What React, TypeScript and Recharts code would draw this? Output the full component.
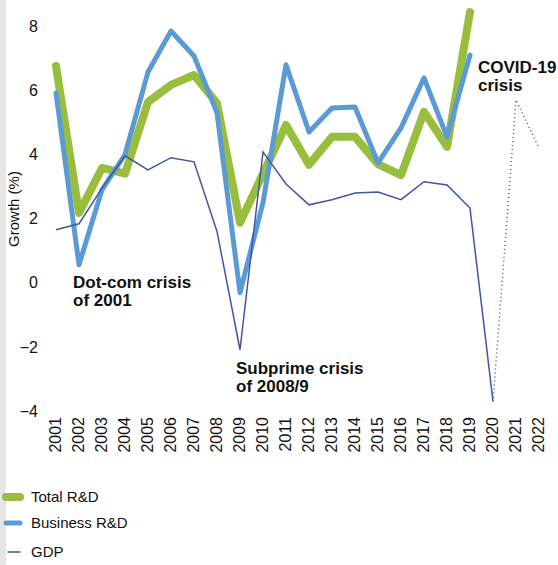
import {
  LineChart,
  Line,
  XAxis,
  YAxis,
  ReferenceDot,
} from "recharts";

const years = [
  "2001", "2002", "2003", "2004", "2005", "2006", "2007", "2008", "2009", "2010", "2011",
  "2012", "2013", "2014", "2015", "2016", "2017", "2018", "2019", "2020", "2021", "2022",
];

const totalRD = [
  6.76, 2.18, 3.58, 3.4, 5.64, 6.17, 6.48, 5.6, 1.87, 3.4, 4.92,
  3.68, 4.55, 4.55, 3.7, 3.36, 5.33, 4.24, 8.44, null, null, null,
];

const businessRD = [
  5.92, 0.56, 2.9, 4.0, 6.57, 7.85, 7.07, 5.3, -0.31, 2.5, 6.8,
  4.7, 5.45, 5.48, 3.74, 4.83, 6.39, 4.55, 7.1, null, null, null,
];

const gdp = [
  1.65, 1.84, 2.95, 3.96, 3.52, 3.9, 3.77, 1.6, -2.09, 4.08, 3.08,
  2.43, 2.59, 2.8, 2.83, 2.59, 3.15, 3.05, 2.33, -3.7, null, null,
];

// projection, drawn dotted
const gdpProjection = [
  null, null, null, null, null, null, null, null, null, null, null,
  null, null, null, null, null, null, null, null, -3.7, 5.7, 4.2,
];

const yTicks = [-4, -2, 0, 2, 4, 6, 8];

const GREEN = "#99bd3c";
const BLUE = "#5b9bd5";
const NAVY = "#3d56a6";
const FONT = "'Liberation Sans', Arial, sans-serif";

const data = years.map((year, i) => ({
  year,
  total: totalRD[i],
  business: businessRD[i],
  gdp: gdp[i],
  gdpProj: gdpProjection[i],
}));

const legendItems = [
  { name: "Total R&D", color: GREEN, thickness: 8, x0: 6, x1: 20 },
  { name: "Business R&D", color: BLUE, thickness: 5, x0: 6, x1: 20 },
  { name: "GDP", color: NAVY, thickness: 1.5, x0: 8, x1: 20 },
];

function YearTick({ x, y, payload }: any) {
  return (
    <g transform={`translate(${x},${y})`}>
      <text
        x={0}
        y={0}
        dy={5}
        textAnchor="end"
        transform="rotate(-90)"
        fill="#111"
        fontSize={16}
        fontFamily={FONT}
      >
        {payload.value}
      </text>
    </g>
  );
}

function Note({ viewBox, lines, dx, dy }: any) {
  const cx = (viewBox.cx ?? viewBox.x + (viewBox.width || 0) / 2) + dx;
  const cy = (viewBox.cy ?? viewBox.y + (viewBox.height || 0) / 2) + dy;
  return (
    <g>
      {lines.map((l: string, i: number) => (
        <text
          key={i}
          x={cx}
          y={cy + i * 18}
          fill="#111"
          fontSize={17}
          fontWeight="bold"
          fontFamily={FONT}
        >
          {l}
        </text>
      ))}
    </g>
  );
}

export default function App() {
  return (
    <div
      style={{
        position: "absolute",
        left: 0,
        top: 0,
        width: 558,
        height: 565,
        background: "#fff",
        fontFamily: FONT,
      }}
    >
      <div
        style={{ position: "absolute", left: 0, top: 0, width: 6, height: 565, background: "#e6e6e6" }}
      />
      <LineChart
        width={558}
        height={470}
        data={data}
        margin={{ top: 7, right: 19, left: 0, bottom: 0 }}
      >
        <XAxis
          dataKey="year"
          axisLine={false}
          tickLine={false}
          interval={0}
          height={59}
          tick={<YearTick />}
          tickMargin={0}
        />
        <YAxis
          width={56}
          domain={[-4, 8.6]}
          ticks={yTicks}
          axisLine={false}
          tickLine={false}
          tickMargin={12}
          tick={{ fill: "#111", fontSize: 16, fontFamily: FONT }}
          tickFormatter={(v: number) => (v < 0 ? "\u2212" + Math.abs(v) : String(v))}
          label={{
            value: "Growth (%)",
            angle: -90,
            position: "insideLeft",
            offset: 14,
            style: { fill: "#111", fontSize: 15, fontFamily: FONT, textAnchor: "middle" },
          }}
        />
        <Line
          dataKey="total"
          stroke={GREEN}
          strokeWidth={8}
          dot={false}
          activeDot={false}
          strokeLinejoin="round"
          strokeLinecap="round"
          isAnimationActive={false}
        />
        <Line
          dataKey="business"
          stroke={BLUE}
          strokeWidth={5}
          dot={false}
          activeDot={false}
          strokeLinejoin="round"
          strokeLinecap="round"
          isAnimationActive={false}
        />
        <Line
          dataKey="gdp"
          stroke={NAVY}
          strokeWidth={1.5}
          dot={false}
          activeDot={false}
          isAnimationActive={false}
        />
        <Line
          dataKey="gdpProj"
          stroke={NAVY}
          strokeWidth={1.5}
          strokeDasharray="1 3"
          dot={false}
          activeDot={false}
          isAnimationActive={false}
        />
        <ReferenceDot
          x="2002"
          y={0}
          r={0}
          label={<Note lines={["Dot-com crisis", "of 2001"]} dx={-6} dy={5} />}
        />
        <ReferenceDot
          x="2009"
          y={-2.09}
          r={0}
          label={<Note lines={["Subprime crisis", "of 2008/9"]} dx={-4} dy={24} />}
        />
        <ReferenceDot
          x="2020"
          y={6}
          r={0}
          label={<Note lines={["COVID-19", "crisis"]} dx={-15} dy={-17} />}
        />
      </LineChart>
      <div style={{ position: "absolute", left: 0, top: 485 }}>
        {legendItems.map((item, i) => (
          <div
            key={item.name}
            style={{
              position: "absolute",
              top: [0, 26, 55][i],
              left: 0,
              height: 24,
              width: 200,
            }}
          >
            <svg width={28} height={24} style={{ position: "absolute", left: 0, top: 0 }}>
              <line
                x1={item.x0}
                x2={item.x1}
                y1={12}
                y2={12}
                stroke={item.color}
                strokeWidth={item.thickness}
                strokeLinecap="round"
              />
            </svg>
            <span
              style={{
                position: "absolute",
                left: 31,
                top: 3,
                fontSize: 15,
                color: "#111",
                whiteSpace: "nowrap",
              }}
            >
              {item.name}
            </span>
          </div>
        ))}
      </div>
    </div>
  );
}
